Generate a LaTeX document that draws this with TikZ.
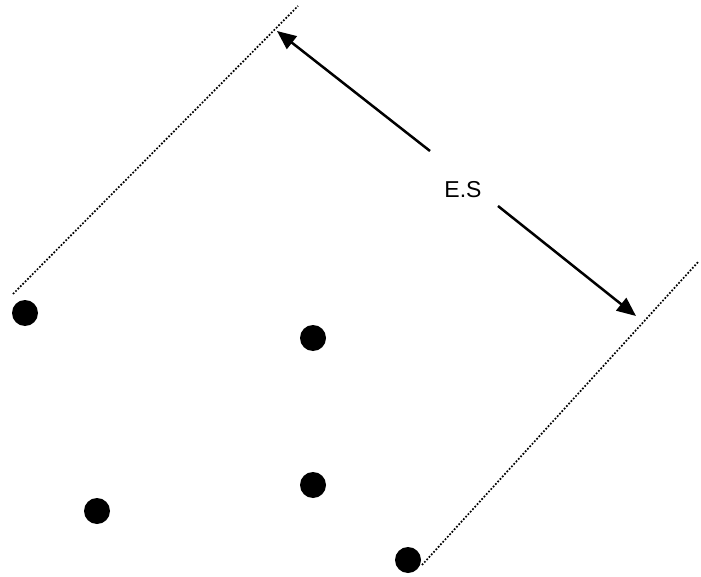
\documentclass[tikz,border=0pt]{standalone}
\usepackage{fontspec}
\setmainfont{Liberation Sans}
\usetikzlibrary{arrows.meta}
\begin{document}
\begin{tikzpicture}[x=1pt,y=-1pt,
  dotpt/.style={circle,fill=black,inner sep=0pt,minimum size=26pt},
  edge/.style={line width=1.7pt,dash pattern=on 1.7pt off 1.7pt},
  dim/.style={line width=2.5pt,-{Triangle[length=19pt,width=16pt]}}]
\useasboundingbox (0,0) rectangle (701,577);
\node[dotpt] (p1) at (25,313) {};
\node[dotpt] (p2) at (313,338) {};
\node[dotpt] (p3) at (97,511) {};
\node[dotpt] (p4) at (313,485) {};
\node[dotpt] (p5) at (408,560) {};
\coordinate (l1a) at (13,294);
\coordinate (l1b) at (298,6);
\coordinate (l2a) at (422,565);
\coordinate (l2b) at (699,261);
\draw[edge] (l1a) -- (l1b);
\draw[edge] (l2a) -- (l2b);
\node[font=\fontsize{23pt}{26pt}\selectfont] (es) at (463,190) {E.S};
\coordinate (g1) at (430,151);
\coordinate (g2) at (498,206);
\coordinate (t1) at (277,31);
\coordinate (t2) at (636,316);
\draw[dim] (g1) -- (t1);
\draw[dim] (g2) -- (t2);
\end{tikzpicture}
\end{document}
